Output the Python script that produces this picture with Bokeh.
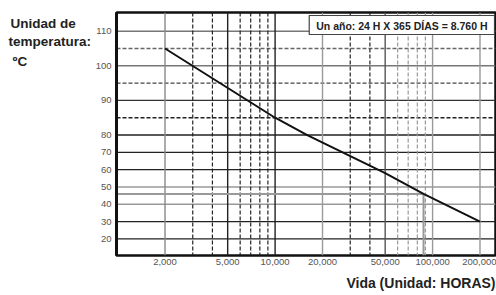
from bokeh.plotting import figure
from bokeh.layouts import row
from bokeh.models import Span, Label, FixedTicker, NumeralTickFormatter, Range1d, Title
from bokeh.embed import file_html
from bokeh.resources import INLINE

# ---------------- data ----------------
life_hours = [2000, 10000, 16000, 50000, 87600, 200000]
life_temp = [105, 85, 80, 58, 46, 30]

x_ticks = [2000, 5000, 10000, 20000, 50000, 100000, 200000]
x_dashed = [3000, 4000, 6000, 7000, 8000, 9000, 30000, 40000, 60000, 70000, 80000, 90000]
y_ticks = [20, 30, 40, 50, 60, 70, 80, 90, 100, 110]
y_dashed = [85, 95, 105]

ten_years_hours = 87600
ten_years_temp = 46

note = "Un año: 24 H X 365 DÍAS = 8.760 H"
y_title = ["Unidad de", "temperatura:", "ºC"]
x_title = "Vida (Unidad: HORAS)"

# ---------------- styles ----------------
h_solid_color = {110: "#777777", 100: "#777777", 90: "#333333", 80: "#222222", 70: "#222222",
                 60: "#222222", 50: "#999999", 40: "#999999", 30: "#222222", 20: "#222222"}
v_solid_color = {2000: "#888888", 5000: "#222222", 10000: "#222222", 20000: "#999999",
                 50000: "#555555", 100000: "#999999", 200000: "#999999"}
h_dashed_color = {105: "#666666", 95: "#444444", 85: "#222222"}
TITLEFONT = "Liberation Sans"
TICKFONT = "Liberation Sans"

# chart's temperature scale: below 80 degC each degree is drawn half as tall
BREAK = 80
def ypos(t):
    return t if t >= BREAK else BREAK - (BREAK - t) / 2

x_start, x_end = 984, 250900
y_start, y_end = 45.2, 115.4

W, H, SIDE = 496, 295, 92
TOP, BOTTOM = 12, 39

# ---------------- side panel holding the y title ----------------
# same top/bottom borders as the chart; its y range runs downward in pixels
side = figure(width=SIDE, height=H, x_range=Range1d(0, SIDE), y_range=Range1d(H - BOTTOM, TOP),
              output_backend="svg", toolbar_location=None, title=None,
              min_border_left=0, min_border_right=0, min_border_top=TOP, min_border_bottom=BOTTOM,
              x_axis_location=None, y_axis_location=None)
side.grid.visible = False
side.outline_line_color = None
title_x = [10, 8, 12]
title_base = [23, 41.5, 61.5]
for txt, xx, yy in zip(y_title, title_x, title_base):
    side.add_layout(Label(x=xx, y=yy, text=txt, text_font=TITLEFONT, text_font_size="13.5px",
                          text_font_style="bold", text_color="#222222",
                          text_baseline="alphabetic"))

# ---------------- main chart ----------------
p = figure(width=W - SIDE, height=H, x_axis_type="log", title=None,
           x_range=Range1d(x_start, x_end), y_range=Range1d(y_start, y_end),
           output_backend="svg", toolbar_location=None,
           min_border_left=115 - SIDE, min_border_right=1, min_border_top=TOP,
           min_border_bottom=BOTTOM)
p.xgrid.visible = False
p.ygrid.visible = False
p.outline_line_color = "#111111"
p.outline_line_width = 2.5

p.xaxis.ticker = FixedTicker(ticks=x_ticks)
p.xaxis.formatter = NumeralTickFormatter(format="0,0")
p.yaxis.ticker = FixedTicker(ticks=[ypos(t) for t in y_ticks])
p.yaxis.major_label_overrides = {ypos(t): str(t) for t in y_ticks}
for ax in (p.xaxis, p.yaxis):
    ax.axis_line_color = None
    ax.major_tick_line_color = None
    ax.minor_tick_line_color = None
    ax.major_tick_out = 0
    ax.major_tick_in = 0
    ax.major_label_text_font = TICKFONT
    ax.major_label_text_font_size = "9.5px"
    ax.major_label_text_color = "#555555"
p.yaxis.major_label_standoff = 5
p.xaxis.major_label_standoff = 3
p.yaxis.axis_line_color = "#111111"
p.yaxis.axis_line_width = 3

for t in y_ticks:
    p.add_layout(Span(location=ypos(t), dimension="width", line_color=h_solid_color[t],
                      line_width=1.4, level="underlay"))
for t in y_dashed:
    p.add_layout(Span(location=ypos(t), dimension="width", line_color=h_dashed_color[t],
                      line_width=1.3, line_dash="4 2", level="underlay"))
for h in x_ticks:
    p.add_layout(Span(location=h, dimension="height", line_color=v_solid_color[h],
                      line_width=1.4, level="underlay"))
for h in x_dashed:
    p.add_layout(Span(location=h, dimension="height",
                      line_color="#999999" if h >= 60000 else "#222222",
                      line_width=1.2, line_dash="4 2", level="underlay"))

# ten-year marker
p.segment(x0=[x_start, ten_years_hours], y0=[ypos(ten_years_temp), ypos(ten_years_temp)],
          x1=[ten_years_hours, ten_years_hours], y1=[ypos(ten_years_temp), y_start],
          line_color="#999999", line_width=2)

# life line
p.line(x=life_hours, y=[ypos(t) for t in life_temp], line_color="#111111", line_width=2)

# note box
p.add_layout(Label(x=x_end, y=y_end, text=note, text_align="right", text_baseline="top",
                   x_offset=-1, y_offset=-3, text_font=TITLEFONT, text_font_size="10.5px",
                   text_font_style="bold", text_color="#222222",
                   border_line_color="#444444", border_line_width=1.2,
                   background_fill_color="white",
                   padding=dict(left=7, right=7, top=4, bottom=3)))

# x title
p.add_layout(Title(text=x_title, align="right", text_font=TITLEFONT, text_font_size="14px",
                   text_font_style="bold", text_color="#222222", standoff=10), "below")

open("out.html", "w").write(file_html(row(side, p), INLINE))
